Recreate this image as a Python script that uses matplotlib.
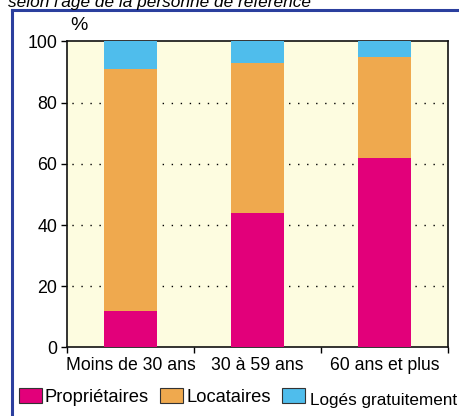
import matplotlib
matplotlib.use("Agg")
import matplotlib.pyplot as plt
from matplotlib.lines import Line2D
from matplotlib.patches import Rectangle
import numpy as np

categories = ["Moins de 30 ans", "30 à 59 ans", "60 ans et plus"]
proprietaires = [12, 44, 62]
locataires = [79, 49, 33]
loges_gratuitement = [9, 7, 5]
series_names = ["Propriétaires", "Locataires", "Logés gratuitement"]
yticks = [0, 20, 40, 60, 80, 100]
ytick_labels = ["0", "20", "40", "60", "80", "100"]

colors = ["#E2007A", "#EFA94E", "#4FBDEC"]

plt.rcParams['font.family'] = ['Liberation Sans', 'DejaVu Sans']

fig = plt.figure(figsize=(4.59, 4.16), dpi=100)
ax = fig.add_axes([0.146, 0.1647, 0.830, 0.736])
ax.set_facecolor("#FDFCE0")

x = np.arange(len(categories))
w = 0.41
bottom = np.zeros(len(categories))
for vals, col in zip([proprietaires, locataires, loges_gratuitement], colors):
    ax.bar(x, vals, width=w, bottom=bottom, color=col, zorder=3, linewidth=0)
    bottom += np.array(vals)

ax.set_xlim(-0.5, 2.5)
ax.set_ylim(0, 100)
ax.set_yticks(yticks)
ax.set_yticklabels(ytick_labels, fontsize=12.8)
for yv in yticks[1:-1]:
    ax.axhline(yv, color="black", linestyle=(3, (1, 5.5)), linewidth=1.0, zorder=2)

ax.set_xticks([-0.5, 0.5, 1.5, 2.5])
ax.set_xticklabels([])
ax.set_xticks(x, minor=True)
ax.set_xticklabels(categories, minor=True, fontsize=12.7)
ax.tick_params(axis='x', which='minor', length=0, pad=7)
ax.tick_params(axis='x', which='major', length=4, width=1, direction='out')
ax.tick_params(axis='y', length=4, width=1, direction='out', pad=3)
for s in ax.spines.values():
    s.set_linewidth(1.2)
    s.set_color("#111111")

fig.text(70/459, 1 - 25/416, "%", fontsize=14, ha='left', va='center')

# Cut-off title at top
fig.text(8/459, 1 - 7/416, "selon l'âge de la personne de référence", fontsize=12.4,
         style='italic', ha='left', va='baseline')

# Blue frame
fig.add_artist(Line2D([12/459, 12/459], [0, 1 - 10/416], color="#2B3F9E", lw=2.2))
fig.add_artist(Line2D([12/459, 1], [1 - 10/416, 1 - 10/416], color="#2B3F9E", lw=2.2))

# Legend
leg_items = [(19, 45, 13.2), (160, 187, 13.2), (282, 310, 12.3)]
for (px, tx, fs), name, col in zip(leg_items, series_names, colors):
    fig.add_artist(Rectangle((px/459, 1 - 403/416), 23/459, 15/416, facecolor=col,
                             edgecolor="#333333", lw=0.8, transform=fig.transFigure))
    dy = 397 if name != "Logés gratuitement" else 401
    fig.text(tx/459, 1 - dy/416, name, fontsize=fs, ha='left', va='center')

fig.savefig("out.png", dpi=100)
